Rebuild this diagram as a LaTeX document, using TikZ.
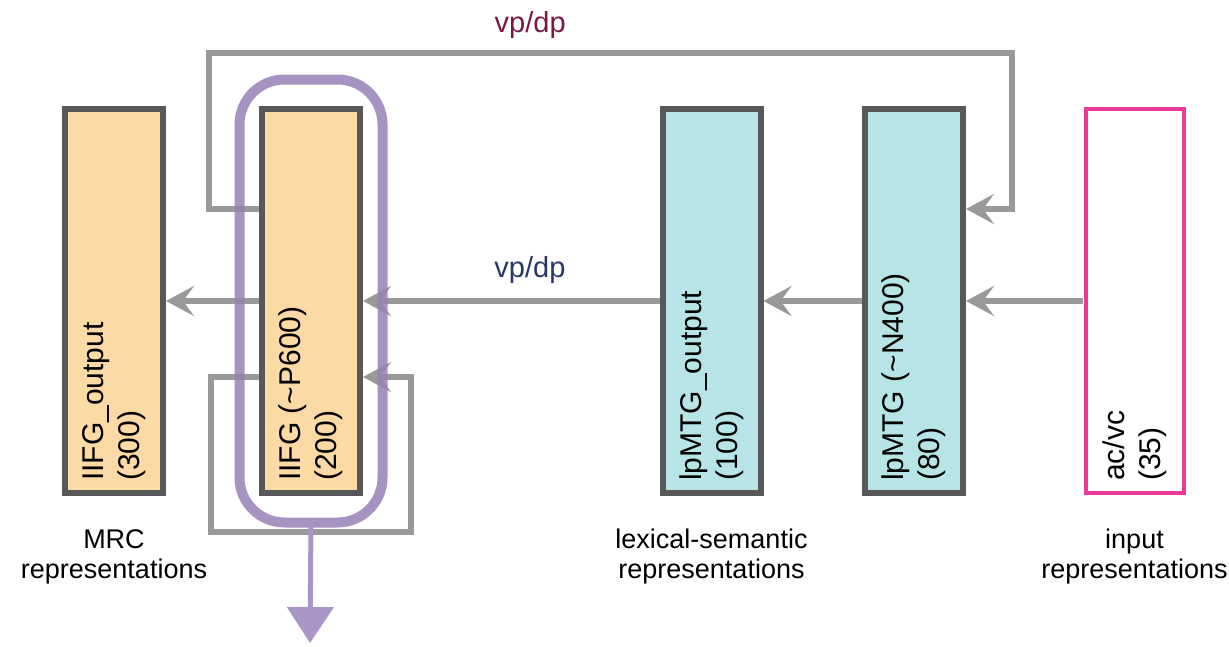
\documentclass[tikz,border=0pt]{standalone}
\usepackage{fontspec}
\setmainfont{Liberation Sans}
\usepackage{xcolor}
\usetikzlibrary{arrows.meta, positioning, fit}

\definecolor{mrcfill}{RGB}{252,218,165}
\definecolor{lexfill}{RGB}{183,229,231}
\definecolor{blkline}{RGB}{88,88,88}
\definecolor{inpink}{RGB}{236,58,150}
\definecolor{conngray}{RGB}{153,153,153}
\definecolor{vptop}{RGB}{122,24,72}
\definecolor{vpmid}{RGB}{40,55,100}
\definecolor{focus}{RGB}{152,128,182}
\definecolor{focusout}{RGB}{170,150,198}

\begin{document}
\begin{tikzpicture}[
  x=1pt, y=-1pt,
  blk/.style={draw=blkline, line width=6pt, minimum width=98pt, minimum height=384pt,
              outer sep=3pt, inner sep=0pt},
  blktxt/.style={rotate=90, anchor=north west, align=left, inner sep=0pt,
                 font=\fontsize{30}{36}\selectfont},
  rep/.style={align=center, inner sep=0pt, font=\fontsize{27}{30}\selectfont},
  vp/.style={inner sep=0pt, font=\fontsize{29}{34}\selectfont},
  arr/.style={-{Stealth[length=28pt, width=30pt, inset=11pt]}, draw=conngray, line width=6pt},
  node distance=33pt
]
  \useasboundingbox (0,0) rectangle (1229,646);

  \node[blk, fill=mrcfill] (iifgout) at (114,301) {};
  \node[blk, fill=mrcfill, right=93pt of iifgout] (iifg) {};
  \node[blk, fill=lexfill, right=296.5pt of iifg] (lpout) {};
  \node[blk, fill=lexfill, right=98.5pt of lpout] (lpmtg) {};
  \node[blk, draw=inpink, line width=4pt, fill=white, right=116.5pt of lpmtg] (acvc) {};

  \node[blktxt] (iifgoutT) at ([xshift=20pt, yshift=15pt]iifgout.south west) {IIFG\_output\\(300)};
  \node[blktxt] (iifgT)    at ([xshift=20pt, yshift=15pt]iifg.south west) {IIFG (\textasciitilde P600)\\(200)};
  \node[blktxt] (lpoutT)   at ([xshift=20pt, yshift=15pt]lpout.south west) {lpMTG\_output\\(100)};
  \node[blktxt] (lpmtgT)   at ([xshift=20pt, yshift=15pt]lpmtg.south west) {lpMTG (\textasciitilde N400)\\(80)};
  \node[blktxt] (acvcT)    at ([xshift=20pt, yshift=15pt]acvc.south west) {ac/vc\\(35)};

  \node[rep, below=of iifgout] (mrc)   {MRC\\representations};
  \node[rep, below=of lpout]   (lexsem) {lexical-semantic\\representations};
  \node[rep, below=of acvc]    (input) {input\\representations};

  \draw[arr] (acvc.west) -- (lpmtg.east);
  \draw[arr] (lpmtg.west) -- (lpout.east);
  \draw[arr] (lpout.west) -- node[vp, text=vpmid, pos=0.437, above=14pt] (vpmidT) {vp/dp} (iifg.east);
  \draw[arr] (iifg.west) -- (iifgout.east);

  \coordinate (fbl) at (209,53);
  \coordinate (fbr) at (1012,53);
  \draw[arr] ([yshift=92pt]iifg.west) -| (fbl)
    -- node[vp, text=vptop, pos=0.4, above=11pt] (vptopT) {vp/dp} (fbr)
    |- ([yshift=92pt]lpmtg.east);

  \coordinate (rcl) at (211,532);
  \coordinate (rcr) at (411,377);
  \draw[arr] ([yshift=-76pt]iifg.west) -| (rcl) -| (rcr) -- ([yshift=-76pt]iifg.east);

  \node[draw=focus, draw opacity=0.85, line width=10pt, rounded corners=45pt,
        fit=(iifg), inner xsep=19.5pt, inner ysep=26.5pt, outer sep=0pt] (loop) {};
  \coordinate (out) at (310,643);
  \draw[focusout, line width=5pt, -{Triangle[length=36pt, width=46pt]}] (loop.south) -- (out);
\end{tikzpicture}
\end{document}
